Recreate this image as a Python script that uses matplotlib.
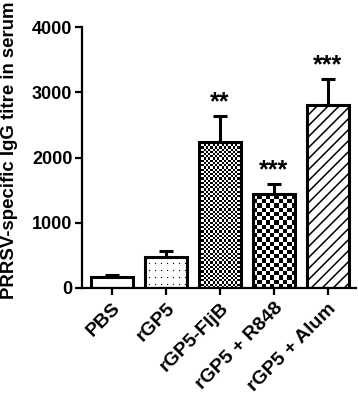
"""
PRRSV-specific IgG titre bar chart — plot.py
"""
import numpy as np
import matplotlib
matplotlib.use("Agg")
import matplotlib.pyplot as plt

groups = ["PBS", "rGP5", "rGP5-FljB", "rGP5 + R848", "rGP5 + Alum"]
titre = [170, 470, 2240, 1440, 2800]
sem = [35, 100, 390, 155, 405]
stars = ["", "", "**", "***", "***"]
fills = ["plain", "dots", "fine", "coarse", "diag"]

plt.rcParams["font.family"] = ["Liberation Sans", "DejaVu Sans"]
plt.rcParams["font.weight"] = "bold"

fig = plt.figure(figsize=(3.58, 3.97), dpi=100)
ax = fig.add_axes([0.229, 0.2746, 0.765, 0.657])

x = np.arange(len(groups))
W = 0.78
XLIM = (-0.556, 4.52)
YLIM = (0, 4000)
ax_w_px = 0.765 * 358
ax_h_px = 0.657 * 397
px_x = (XLIM[1] - XLIM[0]) / ax_w_px   # data units per pixel
px_y = (YLIM[1] - YLIM[0]) / ax_h_px

bars = ax.bar(x, titre, width=W, color="white", edgecolor="black",
              linewidth=2.2, zorder=3)
# outline on top, white fill below the textures
fill_bars = ax.bar(x, titre, width=W, color="white", edgecolor="none", zorder=1)
for b in bars:
    b.set_facecolor("none")

ax.errorbar(x, titre, yerr=[np.zeros(len(sem)), sem], fmt="none",
            ecolor="black", elinewidth=2.2, capsize=5, capthick=2.2, zorder=2)


def checker(ax, patch, cell):
    x0, w, h = patch.get_x(), patch.get_width(), patch.get_height()
    nx = max(1, int(round(w / px_x / cell)))
    ny = max(1, int(round(h / px_y / cell)))
    ii, jj = np.indices((ny, nx))
    arr = ((ii + jj) % 2).astype(float)
    im = ax.imshow(arr, extent=(x0, x0 + w, 0, ny * cell * px_y), origin="lower",
                   cmap="gray", interpolation="nearest", aspect="auto", zorder=2)
    im.set_clip_path(patch)


for patch, kind in zip(fill_bars, fills):
    x0, w, h = patch.get_x(), patch.get_width(), patch.get_height()
    if kind == "fine":
        checker(ax, patch, 2.2)
    elif kind == "coarse":
        checker(ax, patch, 4.2)
    elif kind == "dots":
        gx = np.arange(x0 + 4 * px_x, x0 + w, 6 * px_x)
        gy = np.arange(4 * px_y, h, 7 * px_y)
        X, Y = np.meshgrid(gx, gy)
        sc = ax.scatter(X.ravel(), Y.ravel(), s=0.8, color="black", lw=0, zorder=2)
        sc.set_clip_path(patch)
    elif kind == "diag":
        step = 11 * px_x
        slope = px_y / px_x
        for c in np.arange(x0 - h / slope, x0 + w, step):
            ln, = ax.plot([c, c + h / slope + step], [0, h + step * slope],
                          color="black", lw=1.1, zorder=2)
            ln.set_clip_path(patch)

for xi, v, e, s in zip(x, titre, sem, stars):
    if s:
        ax.text(xi, v + e + 14 * px_y, s, ha="center", va="center",
                fontsize=18, fontweight="bold")

ax.set_xlim(*XLIM)
ax.set_ylim(*YLIM)
ax.set_yticks([0, 1000, 2000, 3000, 4000])
ax.set_xticks(x)
ax.set_xticklabels(groups, rotation=45, ha="right", rotation_mode="anchor",
                   fontsize=14, fontweight="bold")
ax.tick_params(axis="y", labelsize=13, width=1.6, length=5, pad=2)
ax.tick_params(axis="x", width=1.6, length=5)
for lab in ax.get_yticklabels():
    lab.set_fontweight("bold")
ax.set_ylabel("PRRSV-specific IgG titre in serum", fontsize=13.4,
              fontweight="bold")
ax.yaxis.set_label_coords(-0.232, 0.527)
for side in ["top", "right"]:
    ax.spines[side].set_visible(False)
for side in ["left", "bottom"]:
    ax.spines[side].set_linewidth(1.6)

fig.savefig("out.png", dpi=100, facecolor="white")
